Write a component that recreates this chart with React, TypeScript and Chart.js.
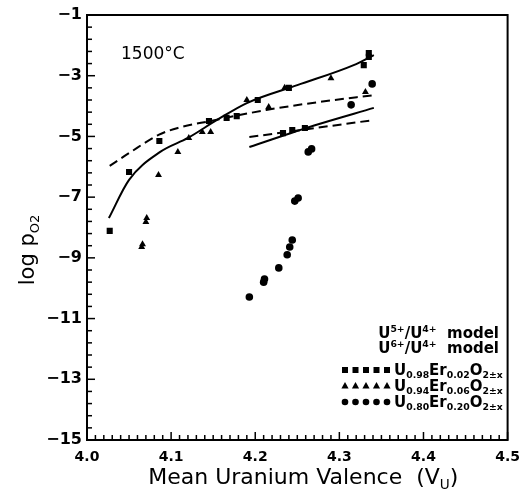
import React, { useEffect, useRef } from 'react';
import { Chart, registerables } from 'chart.js';

Chart.register(...registerables);

// U0.98Er0.02O2±x (squares)
const sqX = [4.027, 4.050, 4.086, 4.145, 4.166, 4.178, 4.203, 4.240, 4.233, 4.244, 4.259, 4.329, 4.335, 4.335];
const sqY = [-8.11, -6.17, -5.15, -4.49, -4.39, -4.33, -3.80, -3.40, -4.89, -4.79, -4.72, -2.65, -2.38, -2.25];
// U0.94Er0.06O2±x (triangles)
const triX = [4.065, 4.066, 4.070, 4.071, 4.085, 4.108, 4.121, 4.137, 4.147, 4.190, 4.216, 4.235, 4.290, 4.331];
const triY = [-8.64, -8.55, -7.82, -7.69, -6.27, -5.51, -5.05, -4.85, -4.85, -3.80, -4.03, -3.40, -3.08, -3.54];
// U0.80Er0.20O2±x (circles)
const ciX = [4.193, 4.210, 4.211, 4.228, 4.238, 4.241, 4.244, 4.247, 4.251, 4.263, 4.267, 4.314, 4.339];
const ciY = [-10.29, -9.80, -9.70, -9.33, -8.90, -8.64, -8.41, -7.13, -7.03, -5.51, -5.41, -3.96, -3.27];

// model curves
const solidUpX = [4.026, 4.050, 4.087, 4.120, 4.155, 4.190, 4.250, 4.317, 4.341];
const solidUpY = [-7.69, -6.43, -5.51, -5.05, -4.45, -3.90, -3.31, -2.65, -2.32];
const dashUpX = [4.027, 4.050, 4.085, 4.108, 4.147, 4.213, 4.280, 4.341];
const dashUpY = [-5.97, -5.55, -4.95, -4.72, -4.49, -4.13, -3.85, -3.64];
const solidLowX = [4.193, 4.270, 4.341];
const solidLowY = [-5.35, -4.64, -4.06];
const dashLowX = [4.193, 4.341];
const dashLowY = [-5.02, -4.46];

const xTickLabels = ['4.0', '4.1', '4.2', '4.3', '4.4', '4.5'];
const yTickValues = [-15, -13, -11, -9, -7, -5, -3, -1];

const FONT = "'DejaVu Sans', 'Liberation Sans', sans-serif";

type Seg = { t: string; s?: 'sub' | 'sup' };

function drawRich(ctx: CanvasRenderingContext2D, segs: Seg[], x: number, y: number, size: number, weight: string, align: 'left' | 'right' | 'center') {
  const sizes = segs.map((s) => (s.s ? size * 0.62 : size));
  let total = 0;
  const widths = segs.map((s, i) => {
    ctx.font = `${weight} ${sizes[i]}px ${FONT}`;
    const w = ctx.measureText(s.t).width;
    total += w;
    return w;
  });
  let cx = align === 'left' ? x : align === 'right' ? x - total : x - total / 2;
  ctx.textAlign = 'left';
  ctx.textBaseline = 'alphabetic';
  segs.forEach((s, i) => {
    ctx.font = `${weight} ${sizes[i]}px ${FONT}`;
    const dy = s.s === 'sub' ? size * 0.22 : s.s === 'sup' ? -size * 0.4 : 0;
    ctx.fillText(s.t, cx, y + dy);
    cx += widths[i];
  });
}

function marker(ctx: CanvasRenderingContext2D, kind: string, x: number, y: number) {
  ctx.beginPath();
  if (kind === 'rect') {
    ctx.rect(x - 3, y - 3, 6, 6);
  } else if (kind === 'triangle') {
    ctx.moveTo(x, y - 4);
    ctx.lineTo(x + 3.6, y + 2.5);
    ctx.lineTo(x - 3.6, y + 2.5);
    ctx.closePath();
  } else {
    ctx.arc(x, y, 3.3, 0, Math.PI * 2);
  }
  ctx.fill();
}

const framePlugin = {
  id: 'frame',
  afterDraw(chart: any) {
    const { ctx, chartArea } = chart;
    const { left, right, top, bottom } = chartArea;
    const xs = chart.scales.x;
    const ys = chart.scales.y;
    ctx.save();
    ctx.strokeStyle = '#000';
    ctx.fillStyle = '#000';
    ctx.lineWidth = 2;
    ctx.strokeRect(left, top, right - left, bottom - top);
    ctx.lineWidth = 1.5;
    // y ticks (inward)
    for (let k = 0; k <= 35; k++) {
      const v = -15 + k * 0.4;
      const py = ys.getPixelForValue(v);
      const len = k % 5 === 0 ? 8 : 5;
      ctx.beginPath();
      ctx.moveTo(left, py);
      ctx.lineTo(left + len, py);
      ctx.stroke();
    }
    // x ticks (inward)
    for (let k = 0; k <= 50; k++) {
      const v = 4 + k * 0.01;
      const px = xs.getPixelForValue(v);
      const len = k % 10 === 0 ? 8 : 5;
      ctx.beginPath();
      ctx.moveTo(px, bottom);
      ctx.lineTo(px, bottom - len);
      ctx.stroke();
    }

    // temperature label
    drawRich(ctx, [{ t: '1500°C' }], 121, 59, 17, 'normal', 'left');

    // x title
    drawRich(ctx, [{ t: 'Mean Uranium Valence  (V' }, { t: 'U', s: 'sub' }, { t: ')' }], (left + right) / 2 + 6, 484, 22, 'normal', 'center');

    // y title
    ctx.save();
    ctx.translate(27, 250);
    ctx.rotate(-Math.PI / 2);
    drawRich(ctx, [{ t: 'log p' }, { t: 'O2', s: 'sub' }], 0, 7, 21, 'normal', 'center');
    ctx.restore();

    // legend
    drawRich(ctx, [{ t: 'U' }, { t: '5+', s: 'sup' }, { t: '/U' }, { t: '4+', s: 'sup' }, { t: '  model' }], 499, 338, 15, 'bold', 'right');
    drawRich(ctx, [{ t: 'U' }, { t: '6+', s: 'sup' }, { t: '/U' }, { t: '4+', s: 'sup' }, { t: '  model' }], 499, 353, 15, 'bold', 'right');
    const rows: [string, Seg[]][] = [
      ['rect', [{ t: 'U' }, { t: '0.98', s: 'sub' }, { t: 'Er' }, { t: '0.02', s: 'sub' }, { t: 'O' }, { t: '2±x', s: 'sub' }]],
      ['triangle', [{ t: 'U' }, { t: '0.94', s: 'sub' }, { t: 'Er' }, { t: '0.06', s: 'sub' }, { t: 'O' }, { t: '2±x', s: 'sub' }]],
      ['circle', [{ t: 'U' }, { t: '0.80', s: 'sub' }, { t: 'Er' }, { t: '0.20', s: 'sub' }, { t: 'O' }, { t: '2±x', s: 'sub' }]],
    ];
    rows.forEach(([kind, segs], i) => {
      const yy = 370 + i * 16;
      for (let m = 0; m < 5; m++) marker(ctx, kind, 345 + m * 10.5, yy);
      drawRich(ctx, segs, 394, yy + 5, 15, 'bold', 'left');
    });
    ctx.restore();
  },
};

const pts = (xs: number[], ys: number[]) => xs.map((x, i) => ({ x, y: ys[i] }));

export default function App() {
  const ref = useRef<HTMLCanvasElement>(null);
  useEffect(() => {
    if (!ref.current) return;
    const lineBase = {
      showLine: true,
      pointRadius: 0,
      borderColor: '#000',
      backgroundColor: '#000',
      borderWidth: 2,
      fill: false,
      cubicInterpolationMode: 'monotone' as const,
    };
    const chart = new Chart(ref.current, {
      type: 'scatter',
      data: {
        datasets: [
          { label: 'sq', data: pts(sqX, sqY), pointStyle: 'rect', pointRadius: 4.3, backgroundColor: '#000', borderColor: '#000', borderWidth: 0 },
          { label: 'tri', data: pts(triX, triY), pointStyle: 'triangle', pointRadius: 4, backgroundColor: '#000', borderColor: '#000', borderWidth: 0 },
          { label: 'ci', data: pts(ciX, ciY), pointStyle: 'circle', pointRadius: 3.8, backgroundColor: '#000', borderColor: '#000', borderWidth: 0 },
          { label: 'solidUp', data: pts(solidUpX, solidUpY), ...lineBase },
          { label: 'dashUp', data: pts(dashUpX, dashUpY), ...lineBase, borderDash: [9, 5] },
          { label: 'solidLow', data: pts(solidLowX, solidLowY), ...lineBase },
          { label: 'dashLow', data: pts(dashLowX, dashLowY), ...lineBase, borderDash: [9, 5] },
        ] as any,
      },
      options: {
        animation: false,
        responsive: false,
        maintainAspectRatio: false,
        layout: { padding: { top: 15, right: 12, left: 0, bottom: 0 } },
        plugins: { legend: { display: false }, tooltip: { enabled: false } },
        scales: {
          x: {
            type: 'linear',
            min: 4.0,
            max: 4.5,
            afterBuildTicks: (s: any) => {
              s.ticks = xTickLabels.map((l) => ({ value: parseFloat(l) }));
            },
            afterFit: (s: any) => {
              s.height = 56;
            },
            ticks: {
              callback: (v: any) => Number(v).toFixed(1),
              font: { size: 14, weight: 'bold', family: FONT },
              color: '#000',
              padding: 9,
              maxRotation: 0,
              autoSkip: false,
            },
            grid: { display: false, drawTicks: false },
            border: { display: false },
          },
          y: {
            type: 'linear',
            min: -15,
            max: -1,
            afterBuildTicks: (s: any) => {
              s.ticks = yTickValues.map((v) => ({ value: v }));
            },
            afterFit: (s: any) => {
              s.width = 87;
            },
            ticks: {
              callback: (v: any) => (Number(v) < 0 ? '\u2212' + Math.abs(Number(v)) : String(v)),
              font: { size: 16, weight: 'bold', family: FONT },
              color: '#000',
              padding: 5,
              autoSkip: false,
            },
            grid: { display: false, drawTicks: false },
            border: { display: false },
          },
        },
      } as any,
      plugins: [framePlugin],
    });
    return () => chart.destroy();
  }, []);
  return (
    <div style={{ position: 'absolute', left: 0, top: 0, width: 529, height: 496, background: '#fff' }}>
      <canvas ref={ref} width={529} height={496} style={{ display: 'block' }} />
    </div>
  );
}
